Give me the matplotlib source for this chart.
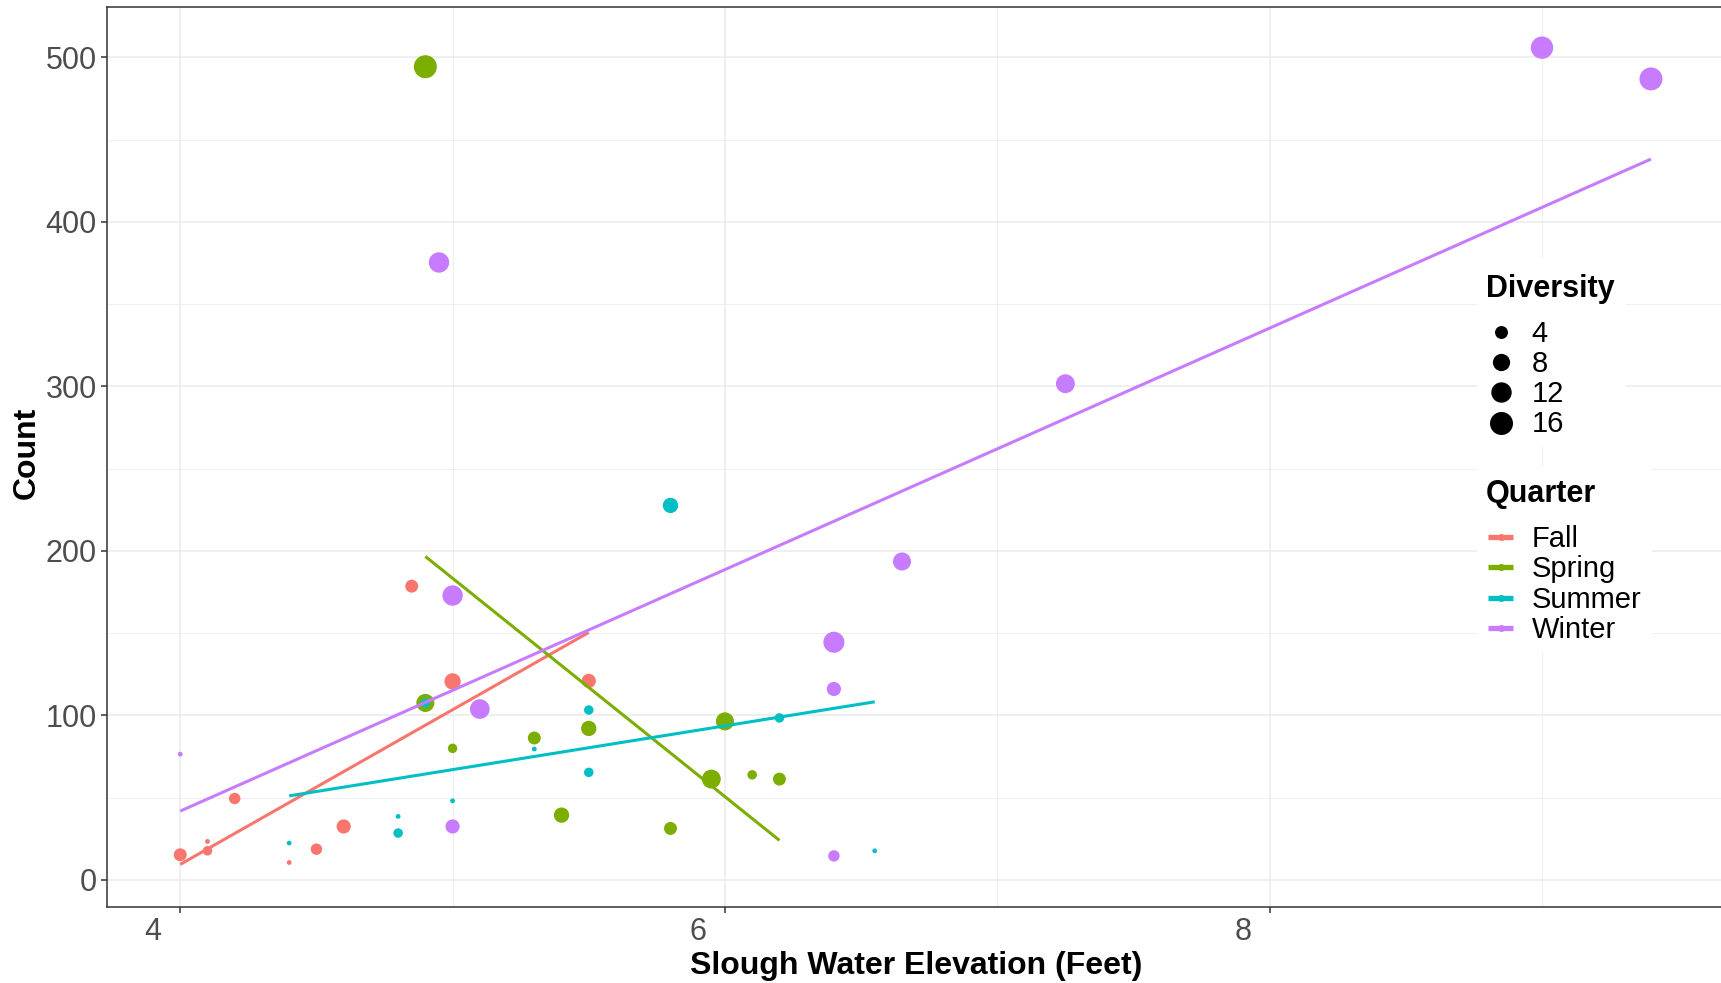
import numpy as np
import matplotlib
matplotlib.use("Agg")
import matplotlib.pyplot as plt
from matplotlib.patches import Rectangle
from matplotlib.transforms import ScaledTranslation

W, H, DPI = 1721, 983, 100
plt.rcParams['font.family'] = ['Liberation Sans', 'DejaVu Sans']

# data (elevation, count, diversity) per quarter
fall_x = [4.0, 4.1, 4.1, 4.2, 4.4, 4.5, 4.6, 4.85, 5.0, 5.5]
fall_y = [15.2, 23.3, 17.6, 49.4, 10.5, 18.6, 32.4, 178.5, 120.6, 120.9]
fall_d = [4, 1, 2, 3, 1, 3, 5, 4, 7, 5]

spring_x = [4.9, 4.9, 5.0, 5.3, 5.5, 5.4, 5.8, 6.0, 5.95, 6.1, 6.2]
spring_y = [494.3, 107.5, 79.9, 86.2, 92.0, 39.3, 31.2, 96.3, 61.2, 63.8, 61.2]
spring_d = [16, 9, 2, 4, 6, 6, 4, 9, 10, 2, 4]

summer_x = [4.4, 4.8, 4.8, 5.0, 4.9, 5.3, 5.5, 5.5, 5.8, 6.2, 6.55]
summer_y = [22.3, 38.5, 28.4, 48.0, 107.5, 79.5, 103.2, 65.3, 227.6, 98.4, 17.6]
summer_d = [1, 1, 2, 1, 2, 1, 2, 2, 6, 2, 1]

winter_x = [4.0, 5.0, 5.1, 5.0, 4.95, 6.65, 6.4, 6.4, 6.4, 7.25, 9.0, 9.4]
winter_y = [76.4, 172.8, 103.8, 32.4, 375.3, 193.5, 144.4, 116.0, 14.5, 301.6, 505.9, 486.9]
winter_d = [1, 12, 11, 5, 12, 9, 13, 5, 3, 10, 15, 16]

quarters = ['Fall', 'Spring', 'Summer', 'Winter']
series = {
    'Fall': (fall_x, fall_y, fall_d),
    'Spring': (spring_x, spring_y, spring_d),
    'Summer': (summer_x, summer_y, summer_d),
    'Winter': (winter_x, winter_y, winter_d),
}
colors = {'Fall': '#F8766D', 'Spring': '#7CAE00', 'Summer': '#00BFC4', 'Winter': '#C77CFF'}
div_breaks = [4, 8, 12, 16]


def diam_px(d):
    return 4.8 + 18.8 * np.sqrt((np.asarray(d, dtype=float) - 1) / 16)


def marker_s(d):
    return (diam_px(d) * 72 / DPI) ** 2


fig = plt.figure(figsize=(W / DPI, H / DPI), dpi=DPI)
ax = fig.add_axes([106.7 / W, 1 - 906.9 / H, 1617.8 / W, 900.2 / H])

for q in quarters:
    x, y, d = series[q]
    ax.scatter(x, y, s=marker_s(d), color=colors[q], linewidths=0, zorder=3)

for q in quarters:
    x, y, _ = series[q]
    k, b = np.polyfit(x, y, 1)
    xs = np.array([min(x), max(x)])
    ax.plot(xs, k * xs + b, color=colors[q], lw=2.2, zorder=4, solid_capstyle='butt')

ax.set_xlim(3.73, 9.67)
ax.set_ylim(-16.5, 530.8)
ax.set_xticks([4, 6, 8])
ax.set_xticks([5, 7, 9], minor=True)
ax.set_yticks(np.arange(0, 501, 100))
ax.set_yticks(np.arange(50, 501, 100), minor=True)
ax.grid(which='major', color='#EBEBEB', lw=1.1)
ax.grid(which='minor', color='#EBEBEB', lw=0.55)
ax.set_axisbelow(True)
for sp in ax.spines.values():
    sp.set_color('#333333')
    sp.set_linewidth(1.1)
ax.tick_params(which='major', length=4.3, width=1.1, color='#333333',
               labelsize=22, labelcolor='#4D4D4D', pad=2.9)
ax.tick_params(which='minor', length=0)

shift = ScaledTranslation(-27 / DPI, 0, fig.dpi_scale_trans)
for lbl in ax.get_xticklabels():
    lbl.set_transform(lbl.get_transform() + shift)

fig.text(916 / W, 1 - 974 / H, 'Slough Water Elevation (Feet)', ha='center',
         va='baseline', fontsize=23, fontweight='bold')
fig.text(26.5 / W, 1 - 453 / H, 'Count', rotation=90, ha='center',
         va='center', fontsize=23, fontweight='bold')

# legends, drawn in pixel space on top of the panel
lax = fig.add_axes([0, 0, 1, 1], zorder=5)
lax.set_xlim(0, W)
lax.set_ylim(H, 0)
lax.axis('off')

lax.add_patch(Rectangle((1477, 258), 149, 189, facecolor='white', edgecolor='none'))
lax.add_patch(Rectangle((1477, 467), 175, 185, facecolor='white', edgecolor='none'))

lax.text(1486, 296.7, 'Diversity', fontsize=22, fontweight='bold', va='baseline')
for i, b in enumerate(div_breaks):
    yy = 332 + 30.2 * i
    lax.scatter([1501], [yy], s=marker_s(b), color='black', linewidths=0)
    lax.text(1531.7, yy + 1.5, str(b), fontsize=21, va='center')

lax.text(1486, 501.7, 'Quarter', fontsize=22, fontweight='bold', va='baseline')
for i, q in enumerate(quarters):
    yy = 536.7 + 30.4 * i
    lax.plot([1488, 1513], [yy, yy], color=colors[q], lw=3.8, solid_capstyle='butt')
    lax.plot([1500.5], [yy], 'o', color=colors[q], ms=5, mew=0)
    lax.text(1532, yy + 2, q, fontsize=21, va='center')

fig.savefig('out.png', dpi=DPI)
